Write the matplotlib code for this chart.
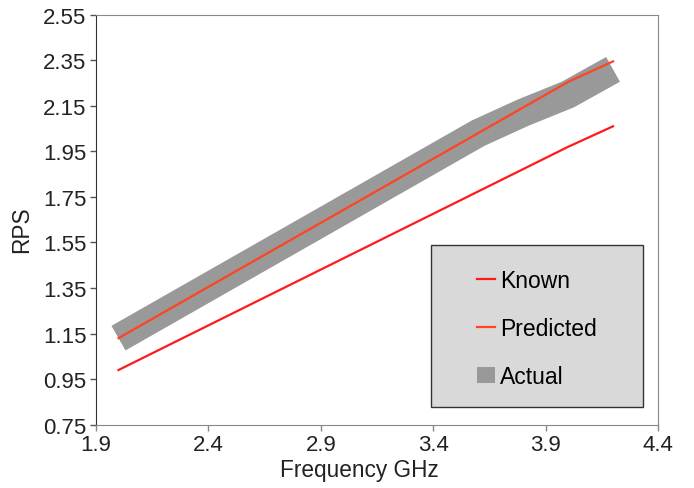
import matplotlib
matplotlib.use("Agg")
import matplotlib.pyplot as plt
from matplotlib.lines import Line2D
from matplotlib.patches import Patch, Rectangle

plt.rcParams['font.family'] = ['Liberation Sans', 'DejaVu Sans']

freq = [2.0, 2.4, 2.8, 3.2, 3.6, 3.8, 4.0, 4.2]
known = [0.99, 1.186, 1.382, 1.578, 1.774, 1.872, 1.97, 2.06]
predicted = [1.13, 1.355, 1.58, 1.805, 2.03, 2.1425, 2.255, 2.345]
actual = [1.13, 1.355, 1.58, 1.805, 2.03, 2.12, 2.20, 2.31]

xticks = [1.9, 2.4, 2.9, 3.4, 3.9, 4.4]
yticks = [0.75, 0.95, 1.15, 1.35, 1.55, 1.75, 1.95, 2.15, 2.35, 2.55]

fig = plt.figure(figsize=(6.94, 4.89), dpi=100)
ax = fig.add_axes([96/694, 1-425.7/489, 562/694, 410/489])

ax.plot(freq, actual, color='#999999', lw=20.4, solid_capstyle='butt',
        solid_joinstyle='miter', zorder=1)
ax.plot(freq, known, color='#ff1a1a', lw=1.6, zorder=2)
ax.plot(freq, predicted, color='#ff4422', lw=1.6, zorder=3)

ax.set_xlim(1.9, 4.4)
ax.set_ylim(0.75, 2.55)
ax.set_xticks(xticks)
ax.set_xticklabels([f"{v:.1f}" for v in xticks])
ax.set_yticks(yticks)
ax.set_yticklabels([f"{v:.2f}" for v in yticks])
ax.tick_params(axis='both', labelsize=16, colors='#222222', length=4,
               direction='out', width=1, pad=3)
ax.tick_params(axis='x', color='#888888')
ax.tick_params(axis='y', color='#555555')
for s in ['top', 'right', 'bottom']:
    ax.spines[s].set_color('#888888')
ax.spines['left'].set_color('#333333')

ax.set_xlabel('Frequency GHz', fontsize=16.3, color='#222222')
ax.set_ylabel('RPS', fontsize=16.3, color='#222222')
ax.xaxis.set_label_coords((359 - 96) / 562, -(459 - 425.7) / 410)
ax.yaxis.set_label_coords((33 - 96) / 562, 1 - (230 - 15.7) / 410)

rect = Rectangle((431/694, 1-408/489), 212/694, 162/489, transform=fig.transFigure,
                 facecolor='#d9d9d9', edgecolor='#333333', lw=1, zorder=4)
fig.add_artist(rect)

handles = [Line2D([], [], color='#ff1a1a', lw=1.6),
           Line2D([], [], color='#ff4422', lw=1.6),
           Patch(facecolor='#999999', edgecolor='none')]
leg = fig.legend(handles, ['Known', 'Predicted', 'Actual'], loc='center',
                 bbox_to_anchor=(537/694, 1-329.5/489), frameon=False,
                 fontsize=16.5, handlelength=0.8, handletextpad=0.22,
                 labelspacing=1.1)
leg.set_zorder(5)

fig.savefig('out.png', dpi=100)
